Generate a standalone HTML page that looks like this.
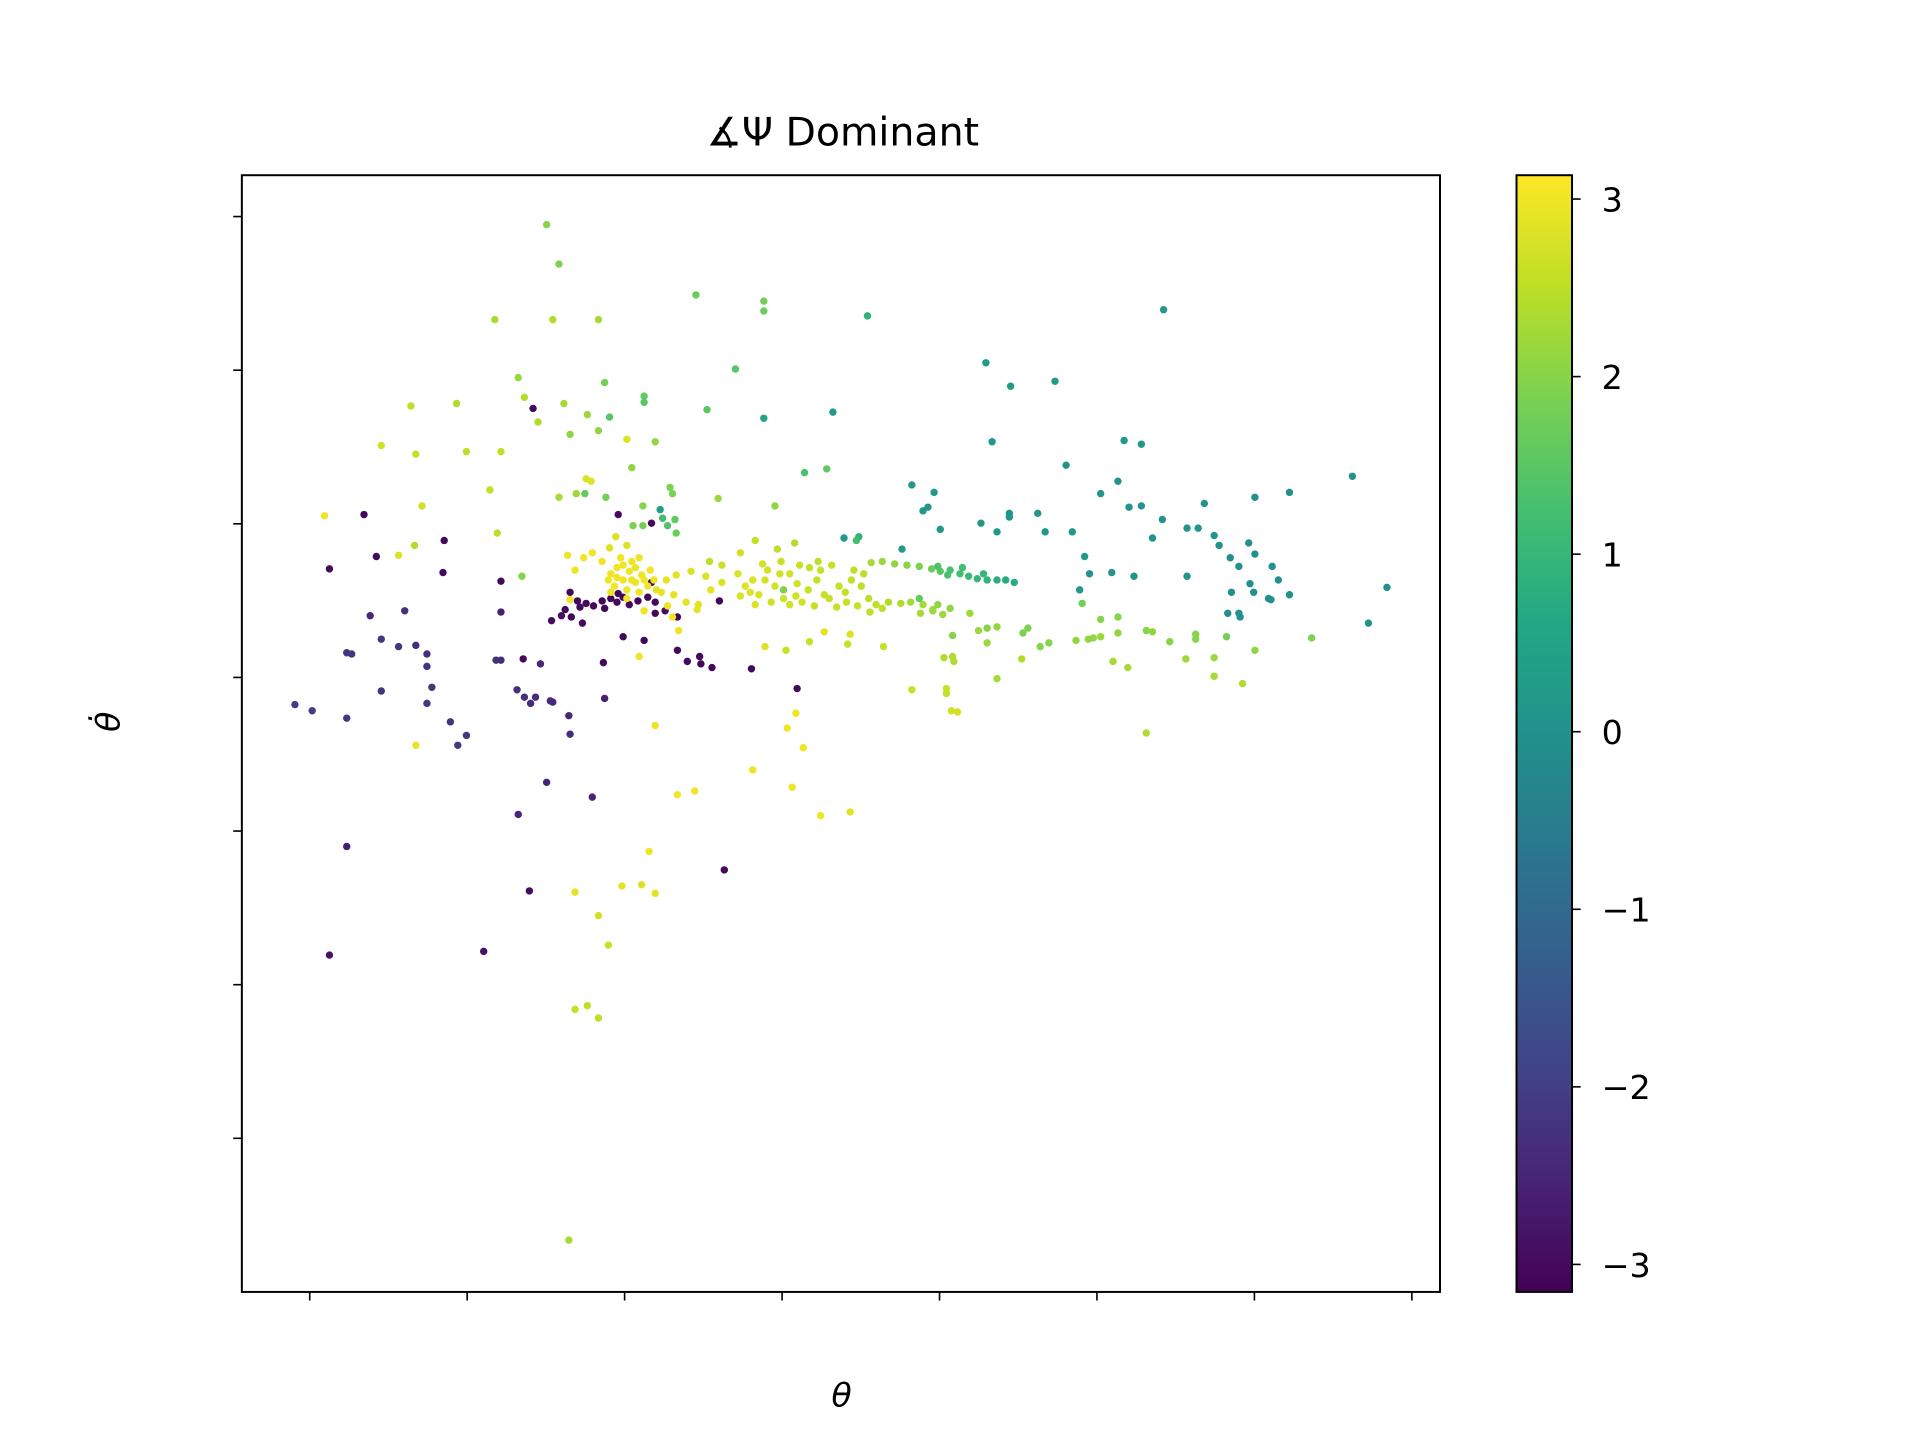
<!DOCTYPE html>
<html><head><meta charset="utf-8"><style>html,body{margin:0;padding:0;background:#fff}svg{display:block}</style></head>
<body>
<svg id="chart" width="1920" height="1440" viewBox="0 0 1556 1167" preserveAspectRatio="none" xmlns="http://www.w3.org/2000/svg" font-family="'DejaVu Sans','Liberation Sans',sans-serif">
<defs><linearGradient id="vir" x1="0" y1="1" x2="0" y2="0">
<stop offset="0" stop-color="#440154"/><stop offset="0.1" stop-color="#482475"/><stop offset="0.2" stop-color="#414487"/><stop offset="0.3" stop-color="#355f8d"/><stop offset="0.4" stop-color="#2a788e"/><stop offset="0.5" stop-color="#21918c"/><stop offset="0.6" stop-color="#22a884"/><stop offset="0.7" stop-color="#44bf70"/><stop offset="0.8" stop-color="#7ad151"/><stop offset="0.9" stop-color="#bddf26"/><stop offset="1" stop-color="#fde725"/></linearGradient></defs>
<text x="683" y="118" font-size="32" text-anchor="middle">∡Ψ Dominant</text>
<g id="points"></g>
<rect x="196" y="142" width="971" height="905" fill="none" stroke="#000" stroke-width="1.6"/>
<g id="ticks"></g>
<text x="682" y="1140" font-size="27" font-style="italic" text-anchor="middle">θ</text>
<text x="0" y="0" font-size="27" font-style="italic" text-anchor="middle" transform="translate(97,585) rotate(-90)">θ̇</text>
<rect x="1229" y="142" width="45" height="905" fill="url(#vir)" stroke="#000" stroke-width="1.6"/>
<g id="cbticks"></g>
</svg>
<script>
const xs=[
192,202,313,368,368,452,692,150,197,234,
345,548,568,604,169,239,174,181,206,225,
243,271,271,322,368,424,82,119,185,234,
211,257,280,58,86,127,155,553,660,674,
613,401,419,845,261,224,228,146,91,12,
44,202,216,223,240,270,292,294,331,377,
488,506,497,501,641,655,664,674,691,725,
766,794,567,567,544,590,596,618,511,557,
433,445,443,480,152,284,286,290,296,297,
270,262,250,277,109,85,72,54,16,108,
155,172,683,711,720,733,737,761,766,753,
746,780,785,762,765,777,779,794,747,753,
754,744,711,668,650,628,632,624,873,858,
812,766,743,718,718,697,678,683,655,641,
631,635,621,599,592,655,641,626,733,710,
663,651,756,733,678,582,578,557,549,542,
549,521,535,519,505,521,522,557,577,514,
488,516,516,520,525,465,438,417,436,405,
386,369,395,394,387,400,359,391,438,414,
298,312,280,267,299,336,275,253,269,280,
215,234,242,215,225,234,210,178,141,16,
30,169,192,229,239,211,210,197,195,179,
183,174,168,187,151,155,99,95,86,120,
127,114,58,30,-12,2,30,34,58,72,
86,95,95,49,77,155,173,238,254,271,
298,306,316,326,317,358,298,288,280,332,
211,217,207,212,219,224,230,237,244,249,
254,259,266,274,280,196,204,221,239,250,
277,
244,249,254,259,264,269,247,257,267,274,
279,252,261,242,289,285,295,305,315,325,
297,309,321,334,215,222,229,209,243,248,
257,237,211,290,314,294,271,
347,353,359,364,371,377,384,389,395,399,
405,411,417,423,429,435,441,447,453,349,
361,374,389,409,427,444,367,382,397,412,
384,349,361,379,393,334,324,
455,464,474,484,494,504,511,519,527,534,
541,549,557,564,571,509,517,529,546,
459,469,479,487,497,505,513,454,464,495,
509,494,
254,264,249,261,271,257,244,281,276,267,
369,381,404,414,421,439,449,357,394,434];
const ys=[
367,335,310,305,297,293,298,290,290,290,
250,255,236,240,243,239,227,218,222,213,
211,228,223,217,210,215,220,222,207,200,
197,193,191,188,181,183,183,191,192,189,
172,166,169,163,170,161,159,152,139,131,
132,146,149,149,146,139,154,149,145,139,
156,150,135,138,149,159,138,139,128,141,
146,150,133,130,125,133,118,118,120,118,
113,114,111,104,117,136,129,123,128,117,
123,123,132,125,111,107,99,98,88,85,
78,82,113,121,121,115,107,109,100,90,
97,90,79,76,69,64,63,67,69,52,
49,52,82,82,85,98,84,71,73,44,
32,22,33,35,31,29,38,37,36,33,
31,32,30,28,25,49,47,60,16,15,
8,13,-5,1,-45,40,36,41,40,38,
28,34,52,56,55,17,13,-1,15,16,
-10,-9,-13,-27,-28,25,35,37,27,29,
22,25,-9,-29,-41,-57,-75,-89,-109,-112,
-95,-92,-39,17,38,-156,-141,-169,-168,-175,
-174,-193,-217,-269,-266,-276,-456,-173,-222,-225,
-137,-111,-85,-97,-17,-46,-31,-20,-19,-21,
-16,-16,-10,11,14,14,-8,-21,-55,-55,
-47,-36,-11,-33,-22,-27,20,19,31,25,
26,19,9,50,54,53,15,12,33,30,
22,13,17,8,11,7,49,54,52,62,
69,62,55,49,57,60,58,62,64,61,
65,59,62,65,61,46,50,44,56,68,
77,
84,89,79,86,77,83,74,71,69,74,
79,97,94,79,79,69,67,61,59,71,
83,86,82,77,87,97,101,99,105,114,
107,94,63,58,55,49,54,
84,74,79,67,87,74,64,84,76,61,
89,79,67,91,74,61,87,74,64,66,
59,61,59,58,57,58,92,94,91,94,
71,101,111,104,109,91,94,
93,94,92,91,90,88,86,87,84,82,
80,79,79,79,77,90,83,89,84,
59,61,60,61,59,54,51,53,56,52,
59,64,
91,89,81,79,79,64,69,71,87,97,
79,84,71,87,64,79,84,69,66,69];
const cs=[
2.0,1.9,1.7,1.8,1.7,0.9,0.2,2.3,2.4,2.3,
1.5,0.3,0.3,0.3,2.2,1.8,2.4,-3,2.3,2.2,
1.5,1.6,1.5,1.5,0.5,0.3,2.5,2.4,2.4,2.1,
2.1,2.8,2.1,2.7,2.6,2.5,2.5,0.2,0.2,0.2,
0.1,1.3,1.6,0.0,2.1,2.8,2.8,2.6,2.7,3.0,
-3,2.3,2.2,1.6,1.8,2.0,1.9,1.9,2.2,2.1,
0.2,0.2,0.2,0.2,0.1,0.1,0.1,0.1,0.1,0.1,
0.0,0.0,0.1,0.1,0.2,0.2,0.2,0.2,0.2,0.2,
0.2,0.9,1.2,0.3,2.5,0.4,1.2,1.4,1.6,1.7,
1.8,1.9,-3,-3,-3,2.4,2.8,-3,-3,-3,
-3,2.0,0.1,0.1,0.1,0.1,0.0,0.0,0.0,0.0,
0.0,0.0,0.0,0.0,0.0,0.0,0.0,0.0,0.0,0.0,
0.0,0.0,0.1,0.1,0.1,0.2,0.1,0.2,0.0,0.1,
1.9,2.1,1.8,2.0,2.0,2.0,2.0,2.1,2.1,2.2,
2.1,2.1,2.1,2.0,2.0,2.0,2.0,1.8,2.2,2.2,
2.3,2.3,2.4,2.3,2.4,1.9,1.9,2.1,2.0,2.2,
2.2,2.0,2.2,2.1,2.2,2.4,2.4,2.3,2.4,2.4,
2.6,2.6,2.6,2.7,2.7,2.6,2.8,2.9,2.6,2.6,
2.6,2.8,-3,3.0,3.0,3.0,3.0,3.0,2.9,3.0,
3.0,3.0,3.0,3.0,3.0,-3,3.0,2.9,2.8,2.9,
2.9,2.7,2.6,2.6,2.5,2.5,2.3,-2.9,-2.8,-2.8,
-2.6,-2.5,-2.5,-2.5,-2.6,-2.4,-2.5,-2.4,-2.4,-2.4,
-2.4,-2.3,-2.3,-2.4,-2.3,-2.4,-2.2,-2.1,2.9,-2.1,
-2.1,-2.2,-2.2,-2.1,-2.0,-2.0,-2.2,-2.2,-2.2,-2.2,
-2.3,-2.3,-2.2,-2.4,-2.3,-2.6,-3,-3,-3,-3,
-3,-3,-3,-3,-3,-3,-3,-2.9,-3,-3.1,
-3,-3,-3,-3,-3,-3,-3,-3,-3,-3,
-3,-3,-3,-3,-3,-2.9,-2.9,-3,-3,-3,
-3,
3,3,3,3,3,3,3,3,3,3,
3,3,3,3,2.9,2.9,2.9,2.9,2.9,2.9,
2.9,2.8,2.8,2.8,3,3,3,3,2.8,2.8,
2.8,3,3,3,2.9,3,3,
2.8,2.8,2.8,2.8,2.7,2.7,2.7,2.7,2.7,2.7,
2.6,2.6,2.6,2.6,2.6,2.6,2.5,2.5,2.5,2.8,
2.8,2.7,2.7,2.6,2.6,2.6,2.7,2.6,2.6,2.5,
1.9,2.7,2.6,2.5,2.4,2.6,2.5,
2.3,2.2,2.1,2.0,1.9,1.7,1.5,1.3,1.2,1.1,
1.0,0.9,0.8,0.7,0.7,1.4,1.3,1.2,1.0,
2.5,2.4,2.4,2.3,2.3,2.2,2.2,2.5,2.5,2.3,
2.1,1.6,
3,3,3,3,3,3,3,2.9,3,3,
2.7,2.7,2.6,2.6,2.6,2.5,2.5,2.8,2.7,2.6];
const cbTicks=[3,2,1,0,-1,-2,-3];
const cbLabels=["3","2","1","0","\u22121","\u22122","\u22123"];
const xTicks=[0,127.6,255.2,382.8,510.4,638,765.6,893.2];
const yTicks=[373.5,249,124.5,0,-124.5,-249,-373.5];

const X=v=>251+v, Y=v=>549-v;
const CB=v=>593-v*143.9;
const vir=["#440154","#482475","#414487","#355f8d","#2a788e","#21918c","#22a884","#44bf70","#7ad151","#bddf26","#fde725"];
function hex(h){return [1,3,5].map(i=>parseInt(h.substr(i,2),16));}
function col(c){let t=(c+Math.PI)/(2*Math.PI);t=Math.max(0,Math.min(1,t))*10;const i=Math.min(9,Math.floor(t)),f=t-i;const a=hex(vir[i]),b=hex(vir[i+1]);return "rgb("+a.map((v,k)=>Math.round(v+(b[k]-v)*f)).join(",")+")";}
const NS="http://www.w3.org/2000/svg";
const g=document.getElementById("points");
const n=Math.min(xs.length,ys.length,cs.length);
for(let i=0;i<n;i++){const el=document.createElementNS(NS,"circle");
el.setAttribute("cx",X(xs[i]));el.setAttribute("cy",Y(ys[i]));el.setAttribute("r",3);el.setAttribute("fill",col(cs[i]));


g.appendChild(el);}
const tg=document.getElementById("ticks");
xTicks.forEach(v=>{const l=document.createElementNS(NS,"line");l.setAttribute("x1",X(v));l.setAttribute("x2",X(v));l.setAttribute("y1",1047);l.setAttribute("y2",1054);l.setAttribute("stroke","#000");l.setAttribute("stroke-width",1.3);


tg.appendChild(l);});
yTicks.forEach(v=>{const l=document.createElementNS(NS,"line");l.setAttribute("x1",189);l.setAttribute("x2",196);l.setAttribute("y1",Y(v));l.setAttribute("y2",Y(v));l.setAttribute("stroke","#000");l.setAttribute("stroke-width",1.3);


tg.appendChild(l);});
const cg=document.getElementById("cbticks");
cbTicks.forEach((v,i)=>{const l=document.createElementNS(NS,"line");l.setAttribute("x1",1274);l.setAttribute("x2",1281);l.setAttribute("y1",CB(v));l.setAttribute("y2",CB(v));l.setAttribute("stroke","#000");l.setAttribute("stroke-width",1.3);


cg.appendChild(l);
const t=document.createElementNS(NS,"text");t.setAttribute("x",1298);t.setAttribute("y",CB(v)+10);t.setAttribute("font-size",27);t.textContent=cbLabels[i];


cg.appendChild(t);});
</script>
</body></html>
